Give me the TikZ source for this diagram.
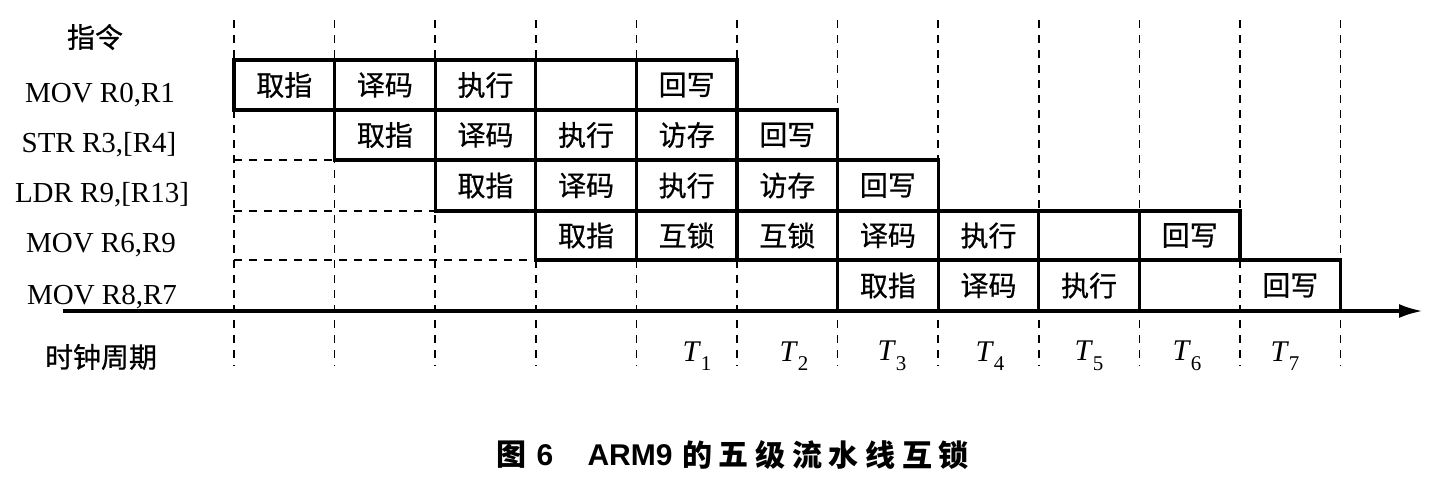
\documentclass[tikz,border=0pt]{standalone}
\usepackage{fontspec}
\setmainfont{Liberation Serif}
\newfontfamily\cjk{Noto Sans CJK SC}
\newfontfamily\cjkc[FakeBold=0.6]{Noto Sans CJK SC}
\newfontfamily\capsans{Liberation Sans}
\usetikzlibrary{arrows.meta,calc}
\newcommand\tsym[1]{\textit{T}\raisebox{-0.32em}{\fontsize{10.5pt}{10.5pt}\selectfont #1}}
\begin{document}
\begin{tikzpicture}[x=0.5pt,y=-0.5pt,
  boxline/.style={line width=1.6pt, line join=miter},
  gridline/.style={line width=0.85pt, dash pattern=on 4pt off 3.5pt},
  cell/.style={font=\cjkc\fontsize{14pt}{14pt}\selectfont, inner sep=0pt, anchor=center},
  lab/.style={font=\fontsize{14.5pt}{14.5pt}\selectfont, inner sep=0pt, anchor=center},
  cjklab/.style={font=\cjkc\fontsize{14pt}{14pt}\selectfont, inner sep=0pt, anchor=center},
  tlab/.style={font=\fontsize{15pt}{15pt}\selectfont, inner sep=0pt, anchor=center},
  capt/.style={font=\cjk\bfseries\fontsize{15pt}{15pt}\selectfont, inner sep=0pt, anchor=center},
  captl/.style={font=\capsans\bfseries\fontsize{15pt}{15pt}\selectfont, inner sep=0pt, anchor=center}]
\useasboundingbox (0,0) rectangle (1435,477);
\fill[white] (0,0) rectangle (1435,477);
% grid coordinates
\foreach \i in {0,...,11}{
  \foreach \j/\yy in {0/60,1/110,2/160,3/211,4/260,5/311}{
    \coordinate (p\i-\j) at ({234+100.6*\i},\yy);
  }
  \coordinate (top\i) at ({234+100.6*\i},20);
  \coordinate (bot\i) at ({234+100.6*\i},366);
}
% vertical dashed lines
\foreach \i in {0,...,11}{
  \draw[gridline] (top\i) -- (bot\i);
}
% horizontal dashed lines
\draw[gridline] (p0-2) -- (p1-2);
\draw[gridline] (p0-3) -- (p2-3);
\draw[gridline] (p0-4) -- (p3-4);
% boxes
\draw[boxline] (p0-0) rectangle (p5-1);
\foreach \i in {1,2,3,4}{\draw[boxline] (p\i-0) -- (p\i-1);}
\draw[boxline] (p1-1) rectangle (p6-2);
\foreach \i in {2,3,4,5}{\draw[boxline] (p\i-1) -- (p\i-2);}
\draw[boxline] (p2-2) rectangle (p7-3);
\foreach \i in {3,4,5,6}{\draw[boxline] (p\i-2) -- (p\i-3);}
\draw[boxline] (p3-3) rectangle (p10-4);
\foreach \i in {4,5,6,7,8,9}{\draw[boxline] (p\i-3) -- (p\i-4);}
\draw[boxline] (p6-4) rectangle (p11-5);
\foreach \i in {7,8,9}{\draw[boxline] (p\i-4) -- (p\i-5);}
% axis
\coordinate (ax0) at (63,311);
\coordinate (ax1) at (1423,311);
\draw[line width=1.8pt, -{Latex[length=12pt,width=7pt]}] (ax0) -- (ax1);
% cell texts: row/col/text
\foreach \r/\c/\t in {
  0/0/取指, 0/1/译码, 0/2/执行, 0/4/回写,
  1/1/取指, 1/2/译码, 1/3/执行, 1/4/访存, 1/5/回写,
  2/2/取指, 2/3/译码, 2/4/执行, 2/5/访存, 2/6/回写,
  3/3/取指, 3/4/互锁, 3/5/互锁, 3/6/译码, 3/7/执行, 3/9/回写,
  4/6/取指, 4/7/译码, 4/8/执行, 4/10/回写}{
  \pgfmathtruncatemacro\rn{\r+1}
  \pgfmathtruncatemacro\cn{\c+1}
  \node[cell] (cell-\r-\c) at ($(p\c-\r)!0.5!(p\cn-\rn)$) {\t};
}
% left labels
\node[cjklab] (hdr) at (95,37) {指令};
\node[lab] (i1) at (100,95) {MOV R0,R1};
\node[lab] (i2) at (99,145) {STR R3,[R4]};
\node[lab] (i3) at (102,195) {LDR R9,[R13]};
\node[lab] (i4) at (101,245) {MOV R6,R9};
\node[lab] (i5) at (102,297) {MOV R8,R7};
\node[cjklab] (clk) at (101,357) {时钟周期};
% clock labels
\foreach \k/\xx in {1/697,2/794,3/892,4/990,5/1089,6/1187,7/1285}{
  \node[tlab] (T\k) at (\xx,356) {\tsym{\k}};
}
% caption
\node[capt] (cap1) at (511,455) {图};
\node[captl] (cap2) at (545,455) {6};
\node[captl] (cap3) at (630,455) {ARM9};
\foreach \ch [count=\n from 0] in {的,五,级,流,水,线,互,锁}{
  \node[capt] (capc\n) at ({697+36.7*\n},455) {\ch};
}
\end{tikzpicture}
\end{document}
